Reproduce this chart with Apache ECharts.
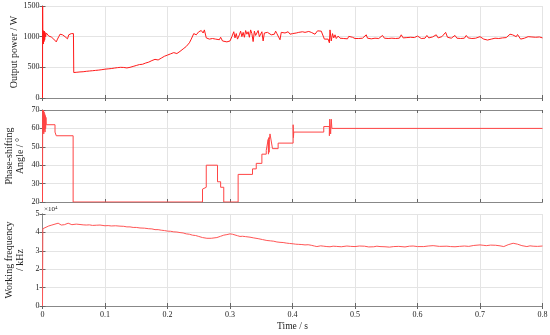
<!DOCTYPE html>
<html><head><meta charset="utf-8">
<script src="https://cdn.jsdelivr.net/npm/echarts@6/dist/echarts.min.js"></script>
<style>html,body{margin:0;padding:0;background:#fff}#c{width:550px;height:335px}</style>
</head><body><div id="c"></div>
<script>
// ---- data ----
var timeTicks = [0, 0.1, 0.2, 0.3, 0.4, 0.5, 0.6, 0.7, 0.8];
var power = [
[0,0],[0.0002,1500],[0.0005,900],[0.001,1100],[0.0015,880],[0.002,1080],[0.0025,920],[0.003,1090],[0.0035,950],[0.004,1070],[0.005,1000],[0.006,1060],[0.008,1030],[0.010,1010],[0.012,990],[0.014,995],[0.016,970],[0.018,960],[0.020,950],[0.022,915],[0.024,960],[0.026,1000],[0.028,1040],[0.030,1020],[0.032,1030],[0.034,1010],[0.036,1000],[0.038,990],[0.040,965],[0.042,1030],[0.044,1010],[0.046,1050],[0.048,1040],[0.0495,1050],[0.050,415],
[0.055,420],[0.06,425],[0.065,428],[0.07,435],[0.075,440],[0.08,445],[0.085,450],[0.09,455],[0.095,462],[0.1,470],[0.105,475],[0.11,480],[0.115,488],[0.12,495],[0.125,500],[0.13,498],[0.135,490],[0.14,500],[0.145,515],[0.15,530],[0.155,545],[0.16,550],[0.165,570],[0.17,585],[0.175,610],[0.18,630],[0.185,620],[0.19,650],[0.195,680],[0.2,700],[0.205,720],[0.21,740],[0.215,725],[0.22,760],[0.225,800],[0.23,840],[0.235,900],[0.238,960],[0.242,1050],[0.246,1030],[0.25,1080],[0.254,1100],[0.257,1060],[0.259,1110],[0.262,980],[0.265,1000],[0.267,960],[0.27,990],[0.272,970],[0.275,1000],[0.277,960],[0.28,985],[0.283,950],[0.285,990],[0.288,930],[0.29,920],[0.295,915],[0.3,930],
[0.303,1000],[0.306,1080],[0.308,980],[0.31,1050],[0.312,960],[0.315,1030],[0.317,1090],[0.319,1000],[0.321,1070],[0.323,990],[0.325,1100],[0.327,1040],[0.329,1080],[0.331,990],[0.333,1110],[0.335,1050],[0.337,920],[0.339,1090],[0.341,1020],[0.343,1060],[0.345,1100],[0.347,1000],[0.349,1040],[0.351,1080],[0.353,930],[0.355,1060],[0.357,1040],[0.36,1070],[0.363,1050],[0.366,1030],[0.368,1060],[0.371,1040],[0.373,1090],[0.375,1050],[0.377,1040],[0.38,950],[0.382,1070],[0.385,1050],[0.388,1060],[0.39,1030],[0.393,1080],[0.396,1040],[0.398,1060],[0.4,1050],
[0.403,1040],[0.406,1060],[0.41,1070],[0.413,1060],[0.416,1080],[0.42,1070],[0.423,1065],[0.426,1085],[0.43,1070],[0.433,1090],[0.436,1040],[0.438,1060],[0.44,1095],[0.443,1080],[0.446,1090],[0.449,1075],[0.451,960],[0.454,940],[0.457,960],[0.459,900],[0.46,1110],[0.462,930],[0.464,1050],[0.466,980],[0.468,1030],[0.47,970],[0.473,1010],[0.476,975],[0.479,1000],[0.482,970],[0.485,990],[0.488,965],[0.49,1005],[0.493,975],[0.496,990],[0.5,970],
[0.503,985],[0.506,970],[0.509,990],[0.512,975],[0.515,980],[0.518,1030],[0.52,975],[0.523,985],[0.526,965],[0.529,990],[0.532,975],[0.535,985],[0.538,970],[0.541,995],[0.544,1020],[0.547,975],[0.55,985],[0.553,970],[0.556,980],[0.559,975],[0.562,990],[0.565,970],[0.568,985],[0.571,975],[0.574,1030],[0.577,980],[0.58,970],[0.583,985],[0.586,975],[0.589,990],[0.592,970],[0.595,985],[0.598,975],[0.6,1010],[0.603,980],[0.606,970],[0.609,990],[0.612,975],[0.615,1020],[0.618,980],[0.621,970],[0.624,995],[0.627,975],[0.63,1030],[0.633,980],[0.636,970],[0.639,1000],[0.642,980],[0.645,1070],[0.648,990],[0.651,1010],[0.654,975],[0.657,990],[0.66,1020],[0.663,975],[0.666,985],[0.669,970],[0.672,990],[0.675,975],[0.678,1020],[0.681,980],[0.684,985],[0.687,970],[0.69,990],[0.693,975],[0.696,985],[0.7,1000],[0.703,975],[0.706,960],[0.709,955],[0.712,945],[0.715,950],[0.718,960],[0.721,955],[0.724,975],[0.727,985],[0.73,970],[0.733,990],[0.736,980],[0.739,995],[0.742,985],[0.745,1000],[0.748,1040],[0.75,1020],[0.752,1030],[0.755,1050],[0.758,1000],[0.76,1035],[0.762,1040],[0.765,960],[0.768,990],[0.771,975],[0.774,995],[0.777,1000],[0.78,985],[0.783,995],[0.786,975],[0.789,990],[0.792,980],[0.795,995],[0.8,980]
];
var angle = [
[0,20],[0.0003,70],[0.001,58],[0.0015,70],[0.002,57],[0.0025,69],[0.003,59],[0.0035,68],[0.004,58],[0.0045,67],[0.005,60],[0.0055,66],[0.006,62],[0.02,62],[0.02,58],[0.022,58],[0.022,56],[0.049,56],[0.049,20],
[0.256,20],[0.256,27],[0.259,27],[0.259,28],[0.262,28],[0.262,40],[0.28,40],[0.28,31],[0.285,31],[0.285,28],[0.29,28],[0.29,20],
[0.313,20],[0.313,35],[0.336,35],[0.336,38],[0.342,38],[0.342,41],[0.351,41],[0.351,46],[0.358,46],[0.358,48],[0.361,48],[0.361,54],[0.3615,46],[0.362,55],[0.3625,47],[0.363,54],[0.364,57],[0.367,57],[0.368,49],[0.377,49],[0.377,52],[0.401,52],[0.401,62],[0.4015,55],[0.402,58],[0.45,58],[0.45,61],[0.459,61],[0.459,56],[0.4595,65],[0.461,57],[0.462,65],[0.463,60],[0.8,60]
];
var freq = [
[0,0],[0.0005,4.2],[0.003,4.3],[0.01,4.35],[0.015,4.4],[0.02,4.45],[0.025,4.5],[0.03,4.4],[0.035,4.42],[0.041,4.5],[0.047,4.42],[0.054,4.45],[0.06,4.43],[0.065,4.41],[0.07,4.4],[0.075,4.41],[0.08,4.38],[0.086,4.39],[0.092,4.4],[0.1,4.36],[0.105,4.37],[0.11,4.35],[0.117,4.36],[0.124,4.34],[0.13,4.33],[0.135,4.3],[0.14,4.3],[0.145,4.27],[0.15,4.27],[0.156,4.24],[0.163,4.23],[0.17,4.2],[0.175,4.19],[0.18,4.15],[0.185,4.15],[0.19,4.12],[0.195,4.1],[0.2,4.07],[0.205,4.06],[0.21,4.03],[0.215,4.02],[0.22,3.99],[0.225,3.97],[0.23,3.92],[0.235,3.9],[0.24,3.85],[0.245,3.83],[0.25,3.78],[0.256,3.72],[0.263,3.68],[0.27,3.68],[0.279,3.72],[0.285,3.79],[0.29,3.85],[0.295,3.88],[0.3,3.92],[0.304,3.9],[0.308,3.86],[0.312,3.82],[0.316,3.78],[0.32,3.79],[0.325,3.77],[0.332,3.74],[0.338,3.7],[0.345,3.66],[0.352,3.61],[0.359,3.56],[0.365,3.54],[0.37,3.52],[0.375,3.48],[0.38,3.46],[0.385,3.45],[0.39,3.42],[0.395,3.4],[0.401,3.38],[0.405,3.36],[0.41,3.35],[0.415,3.34],[0.42,3.32],[0.425,3.33],[0.43,3.3],[0.435,3.26],[0.439,3.23],[0.445,3.27],[0.45,3.25],[0.455,3.23],[0.46,3.22],[0.465,3.25],[0.47,3.24],[0.478,3.22],[0.487,3.26],[0.493,3.24],[0.5,3.23],[0.507,3.26],[0.515,3.25],[0.522,3.21],[0.53,3.22],[0.535,3.25],[0.54,3.23],[0.548,3.22],[0.555,3.2],[0.562,3.23],[0.57,3.24],[0.58,3.21],[0.587,3.25],[0.593,3.26],[0.6,3.23],[0.61,3.23],[0.617,3.26],[0.625,3.28],[0.635,3.24],[0.647,3.25],[0.653,3.23],[0.66,3.22],[0.667,3.24],[0.675,3.26],[0.682,3.24],[0.69,3.29],[0.7,3.32],[0.705,3.3],[0.71,3.28],[0.717,3.31],[0.725,3.3],[0.732,3.27],[0.738,3.23],[0.745,3.33],[0.753,3.41],[0.76,3.36],[0.767,3.28],[0.775,3.23],[0.78,3.27],[0.785,3.25],[0.792,3.24],[0.8,3.26]
];
var powerTicks = [0, 500, 1000, 1500];
var angleTicks = [20, 30, 40, 50, 60, 70];
var freqTicks = [0, 1, 2, 3, 4, 5];
var yNames = ['Output power / W', 'Phase-shifting\nAngle / \u00b0', 'Working frequency\n/ kHz'];
var xName = 'Time / s';
var expLabel = '\u00d710';
var expSup = '4';

// ---- styling / layout ----
var FONT = 'Liberation Serif';
var COLORS = ['#ff1a1a', '#ff4545', '#ff5555'];
var gridTops = [6, 110, 214];
var grids = gridTops.map(function (t) {
  return { left: 42.5, right: 7.5, top: t, height: 92, containLabel: false, outerBoundsMode: 'none' };
});
var yRanges = [powerTicks, angleTicks, freqTicks];
var nameGaps = [22, 16, 16];

var xAxes = [], yAxes = [];
grids.forEach(function (g, i) {
  var tk = yRanges[i];
  var common = { type: 'value', min: 0, max: 0.8, interval: 0.1, gridIndex: i };
  xAxes.push(Object.assign({}, common, {
    position: 'bottom',
    axisLine: { show: true, lineStyle: { color: '#888', width: 1 } },
    axisTick: { show: true, inside: true, length: 3, lineStyle: { color: '#666' } },
    axisLabel: { show: i === 2, fontFamily: FONT, fontSize: 8, color: '#222', margin: 5,
      formatter: function (v) { return String(Math.round(v * 10) / 10); } },
    splitLine: { show: true, lineStyle: { color: '#e4e4e4', width: 1 } },
    name: i === 2 ? xName : '', nameLocation: 'middle', nameGap: 15, nameMoveOverlap: false,
    nameTextStyle: { fontFamily: FONT, fontSize: 9.5, color: '#222' }
  }));
  xAxes.push(Object.assign({}, common, {
    position: 'top',
    axisLine: { show: true, lineStyle: { color: '#888', width: 1 } },
    axisTick: { show: true, inside: true, length: 3, lineStyle: { color: '#666' } },
    axisLabel: { show: false }, splitLine: { show: false }
  }));
  var yc = { type: 'value', gridIndex: i, min: tk[0], max: tk[tk.length - 1], interval: tk[1] - tk[0] };
  yAxes.push(Object.assign({}, yc, {
    position: 'left',
    axisLine: { show: true, lineStyle: { color: '#888', width: 1 } },
    axisTick: { show: true, inside: true, length: 3, lineStyle: { color: '#666' } },
    axisLabel: { fontFamily: FONT, fontSize: 8, color: '#222', margin: 3,
      formatter: function (v) { return String(v); } },
    splitLine: { show: true, lineStyle: { color: '#e4e4e4', width: 1 } },
    name: yNames[i], nameLocation: 'middle', nameGap: nameGaps[i], nameRotate: 90, nameMoveOverlap: false,
    nameTextStyle: { fontFamily: FONT, fontSize: 10, color: '#222', lineHeight: 11.5 }
  }));
  yAxes.push(Object.assign({}, yc, {
    position: 'right',
    axisLine: { show: true, lineStyle: { color: '#888', width: 1 } },
    axisTick: { show: true, inside: true, length: 3, lineStyle: { color: '#666' } },
    axisLabel: { show: false }, splitLine: { show: false }
  }));
});

function lineSeries(data, i) {
  return { type: 'line', xAxisIndex: i * 2, yAxisIndex: i * 2, data: data, showSymbol: false,
    symbol: 'none', animation: false, lineStyle: { color: COLORS[i], width: 1 } };
}

var chart = echarts.init(document.getElementById('c'), null, { renderer: 'canvas' });
chart.setOption({
  backgroundColor: '#fff',
  animation: false,
  grid: grids,
  xAxis: xAxes,
  yAxis: yAxes,
  series: [lineSeries(power, 0), lineSeries(angle, 1), lineSeries(freq, 2)],
  graphic: [{
    type: 'text', left: 44, top: 205,
    style: { text: '{a|' + expLabel + '}{b|' + expSup + '}', rich: {
      a: { fontFamily: FONT, fontSize: 7, fill: '#222', color: '#222' },
      b: { fontFamily: FONT, fontSize: 5, fill: '#222', color: '#222', verticalAlign: 'top', padding: [0, 0, 4, 0] } } }
  }]
});
</script></body></html>
